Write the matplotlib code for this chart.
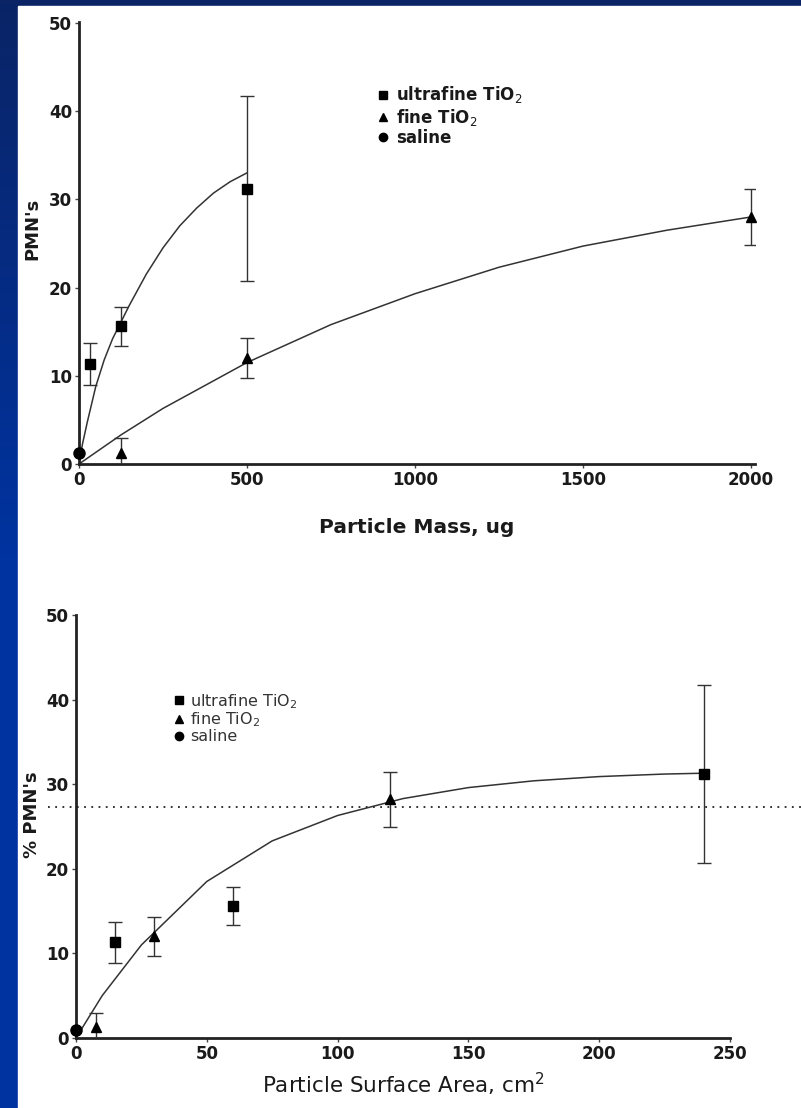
import matplotlib
matplotlib.use("Agg")
import matplotlib.pyplot as plt
import numpy as np
from matplotlib.lines import Line2D
from matplotlib.colors import LinearSegmentedColormap

# ---- top panel: PMN's vs particle mass ----
mass_uf = [33, 125, 500]
pmn_uf = [11.3, 15.6, 31.2]
err_uf = [2.4, 2.2, 10.5]

mass_fine = [125, 500, 2000]
pmn_fine = [1.3, 12.0, 28.0]
err_fine = [1.7, 2.3, 3.2]

mass_sal = [0]
pmn_sal = [1.2]

# fitted curves
curve_uf_x = [0, 10, 25, 50, 75, 100, 150, 200, 250, 300, 350, 400, 450, 500]
curve_uf_y = [0, 2.2, 4.8, 8.8, 11.8, 14.2, 18.0, 21.5, 24.5, 27.0, 29.0, 30.7, 32.0, 33.0]
curve_fine_x = [0, 125, 250, 500, 750, 1000, 1250, 1500, 1750, 2000]
curve_fine_y = [0, 3.3, 6.3, 11.5, 15.8, 19.3, 22.3, 24.7, 26.5, 28.0]

# ---- bottom panel: % PMN's vs surface area ----
area_uf = [15, 60, 240]
area_fine = [7.5, 30, 120]
pmn_fine_b = [1.3, 12.0, 28.2]
area_sal = [0]
pmn_sal_b = [1.0]

curve_area_x = [0, 10, 25, 50, 75, 100, 125, 150, 175, 200, 225, 240]
curve_area_y = [0, 5.0, 11.0, 18.5, 23.3, 26.3, 28.3, 29.6, 30.4, 30.9, 31.2, 31.3]
dotted_level = 27.3

legend_labels = ["ultrafine TiO$_2$", "fine TiO$_2$", "saline"]

W, H = 801, 1108
fig = plt.figure(figsize=(W / 100, H / 100), dpi=100)

# blue slide background with gradient
bg = fig.add_axes([0, 0, 1, 1])
cmap = LinearSegmentedColormap.from_list("slide", ["#0a2466", "#0033a0", "#0033a0"])
bg.imshow(np.linspace(0, 1, 256).reshape(-1, 1), aspect="auto", cmap=cmap,
          extent=[0, 1, 0, 1], origin="upper")
bg.set_xlim(0, 1)
bg.set_ylim(0, 1)
bg.axis("off")
bg.add_patch(plt.Rectangle((18 / W, 0), 1 - 18 / W, 1 - 6 / H, color="white", zorder=2))

ink = "#1a1a1a"


def style_axis(ax):
    for s in ["top", "right"]:
        ax.spines[s].set_visible(False)
    for s in ["left", "bottom"]:
        ax.spines[s].set_linewidth(2.0)
        ax.spines[s].set_color("#222222")
    ax.tick_params(direction="out", length=3, width=1, colors="#444444",
                   labelcolor=ink, labelsize=12, pad=2)
    for lab in ax.get_xticklabels() + ax.get_yticklabels():
        lab.set_fontweight("bold")
    ax.patch.set_alpha(0)


def marker_handles():
    return [Line2D([], [], ls="none", marker=m, color="black", ms=6) for m in "s^o"]


eb_kw = dict(fmt="none", ecolor="#333333", elinewidth=1.0, capsize=5, capthick=1.0, zorder=3)

# ---------- top ----------
ax1 = fig.add_axes([79 / W, 1 - 464 / H, (755 - 79) / W, (464 - 22) / H])
ax1.plot(curve_uf_x, curve_uf_y, color="#333333", lw=1.1, zorder=2)
ax1.plot(curve_fine_x, curve_fine_y, color="#333333", lw=1.1, zorder=2)
ax1.errorbar(mass_uf, pmn_uf, yerr=err_uf, **eb_kw)
ax1.errorbar(mass_fine, pmn_fine, yerr=err_fine, **eb_kw)
ax1.plot(mass_uf, pmn_uf, "s", color="black", ms=7.5, zorder=4, clip_on=False)
ax1.plot(mass_fine, pmn_fine, "^", color="black", ms=7.5, zorder=4, clip_on=False)
ax1.plot(mass_sal, pmn_sal, "o", color="black", ms=8, zorder=4, clip_on=False)
ax1.set_xlim(0, 2012)
ax1.set_ylim(0, 50.1)
ax1.set_xticks([0, 500, 1000, 1500, 2000])
ax1.set_yticks([0, 10, 20, 30, 40, 50])
style_axis(ax1)
ax1.set_xlabel("Particle Mass, ug", fontsize=14.5, fontweight="bold", color=ink, labelpad=21)
ax1.set_ylabel("PMN's", fontsize=13, fontweight="bold", color=ink)
ax1.yaxis.set_label_coords((41 - 79) / 676, 0.532)

leg1 = ax1.legend(marker_handles(), legend_labels,
                  loc="upper left", bbox_to_anchor=(370 / W, 1 - 76 / H),
                  bbox_transform=fig.transFigure, frameon=False, handlelength=0.6,
                  handletextpad=0.45, labelspacing=0.08, borderpad=0,
                  prop={"size": 12, "weight": "bold"})
for t in leg1.get_texts():
    t.set_color(ink)

# ---------- bottom ----------
ax2 = fig.add_axes([76 / W, 1 - 1038 / H, (730 - 76) / W, (1038 - 615) / H])
ax2.plot(curve_area_x, curve_area_y, color="#333333", lw=1.1, zorder=2)
ax2.errorbar(area_uf, pmn_uf, yerr=err_uf, **eb_kw)
ax2.errorbar(area_fine, pmn_fine_b, yerr=err_fine, **eb_kw)
ax2.plot(area_uf, pmn_uf, "s", color="black", ms=7.5, zorder=4, clip_on=False)
ax2.plot(area_fine, pmn_fine_b, "^", color="black", ms=7.5, zorder=4, clip_on=False)
ax2.plot(area_sal, pmn_sal_b, "o", color="black", ms=8, zorder=4, clip_on=False)
ax2.axhline(dotted_level, xmin=(48 - 76) / 654, xmax=(801 - 76) / 654, clip_on=False,
            color="#222222", ls=(0, (1, 3)), lw=1.3, zorder=1)
ax2.set_xlim(0, 250)
ax2.set_ylim(0, 50)
ax2.set_xticks([0, 50, 100, 150, 200, 250])
ax2.set_yticks([0, 10, 20, 30, 40, 50])
style_axis(ax2)
ax2.set_xlabel("Particle Surface Area, cm$^2$", fontsize=15.5, color=ink, labelpad=6)
ax2.set_ylabel("% PMN's", fontsize=13, fontweight="bold", color=ink)
ax2.yaxis.set_label_coords((41 - 76) / 654, 0.527)

leg2 = ax2.legend(marker_handles(), legend_labels,
                  loc="upper left", bbox_to_anchor=(166 / W, 1 - 684 / H),
                  bbox_transform=fig.transFigure, frameon=False, handlelength=0.6,
                  handletextpad=0.4, labelspacing=0.0, borderpad=0,
                  prop={"size": 11.5})
for t in leg2.get_texts():
    t.set_color("#333333")

fig.savefig("out.png", dpi=100)
